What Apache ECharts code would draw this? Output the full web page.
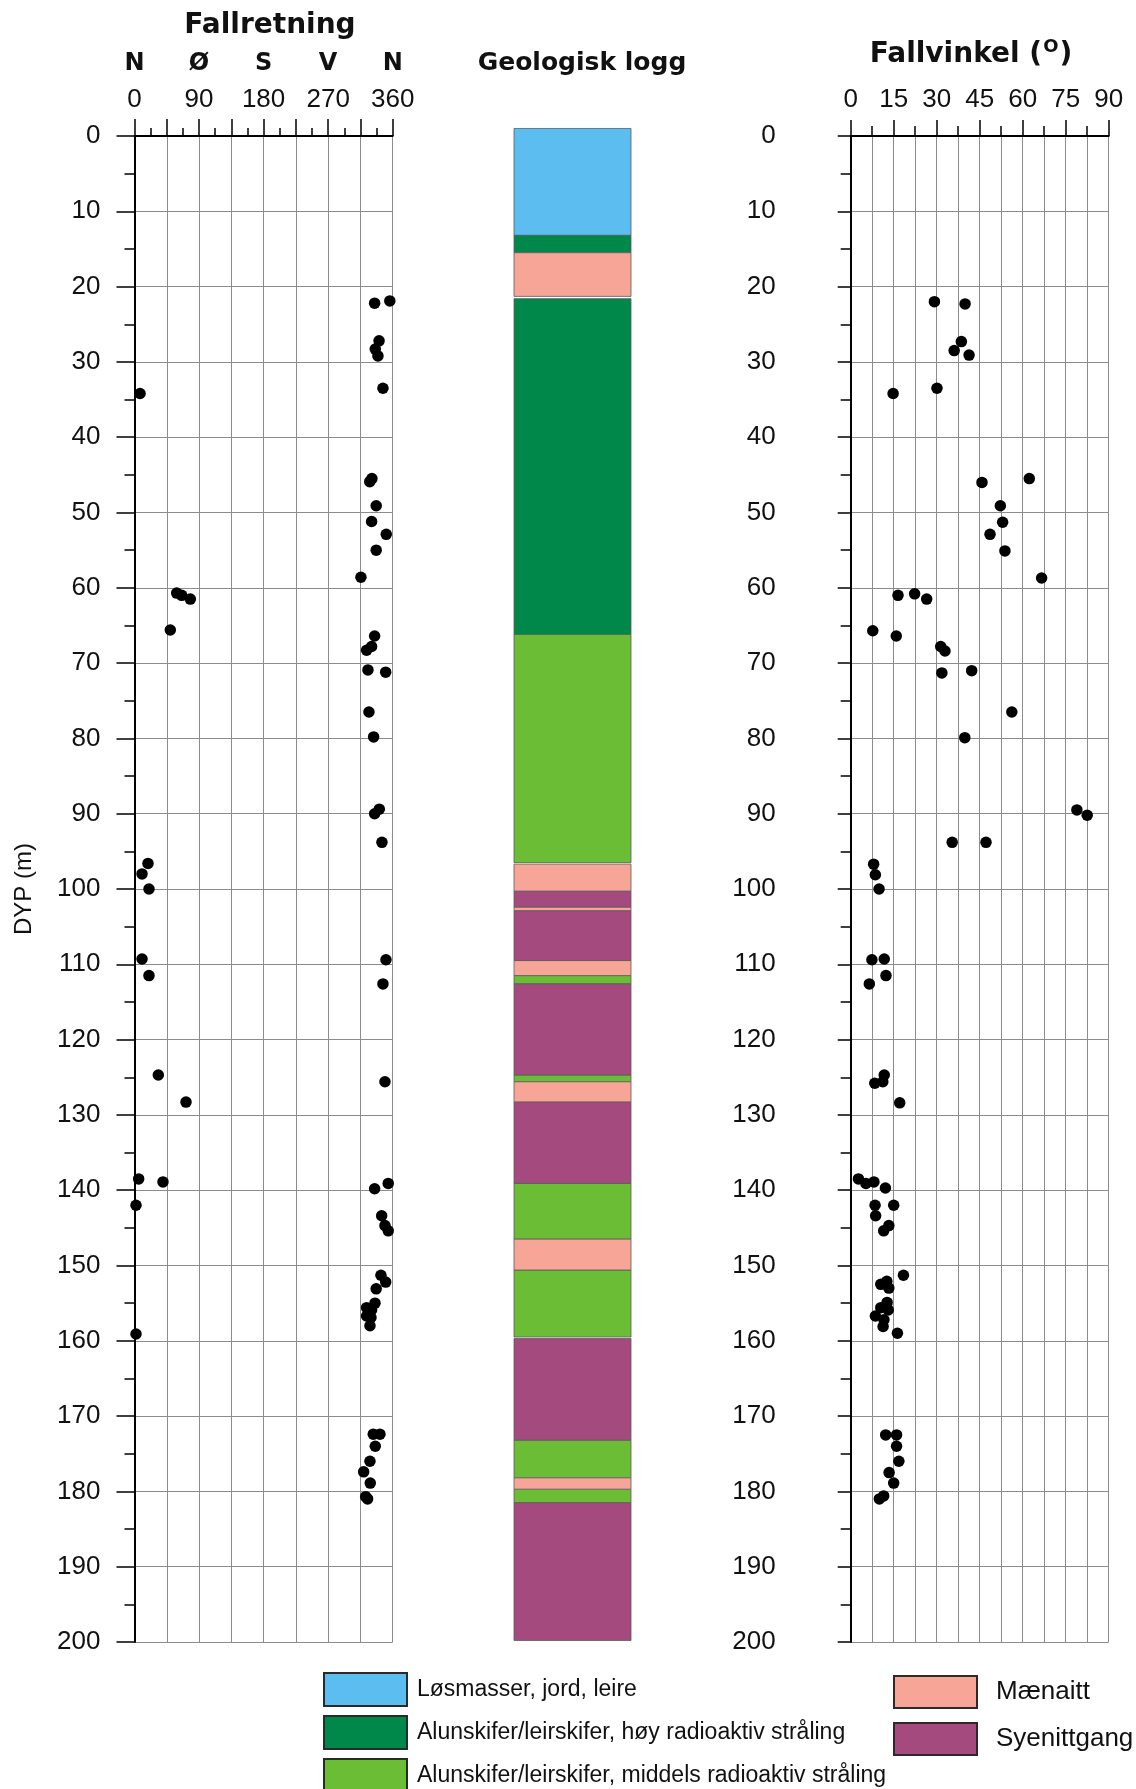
<!DOCTYPE html>
<html>
<head>
<meta charset="utf-8">
<script src="https://cdn.jsdelivr.net/npm/echarts@6/dist/echarts.min.js"></script>
<style>
  html, body { margin: 0; padding: 0; background: #fff; }
  #chart { width: 1136px; height: 1789px; }
</style>
</head>
<body>
<div id="chart"></div>
<script>
// ---- Dip direction (Fallretning): depth (m) and azimuth (deg)
const dirDepth = [22.2, 21.9, 27.2, 28.3, 29.2, 33.5, 34.2, 45.5, 45.9, 49.1, 51.2, 52.9, 55.0, 58.6, 60.7, 61.0, 61.5, 65.6, 66.4, 67.8, 68.3, 70.9, 71.2, 76.5, 79.8, 89.4, 90.0, 93.8, 96.6, 98.0, 100.0, 109.3, 109.4, 111.5, 112.6, 124.7, 125.6, 128.3, 138.5, 138.9, 139.1, 139.8, 142.0, 143.4, 144.7, 145.4, 151.3, 152.2, 153.1, 155.0, 155.6, 155.9, 156.7, 156.9, 158.0, 159.1, 172.4, 172.4, 174.0, 176.0, 177.4, 178.9, 180.7, 181.0];
const dirValue = [334.8, 356, 341, 335.7, 339.4, 346.4, 7.7, 331, 328, 337, 330.6, 351, 337, 315.7, 58.8, 65.8, 77.8, 49.9, 334.8, 330.6, 323.6, 325.5, 350.2, 326.9, 333.4, 341.3, 334.8, 345, 18.8, 10.5, 20.2, 10.5, 350.6, 20.2, 346.4, 33.2, 349.2, 71.8, 5.8, 39.7, 353.8, 334.8, 2.1, 344.6, 349.2, 353.8, 343.6, 350.2, 337, 335.3, 323.6, 330.6, 323.6, 329.7, 328.3, 2.1, 332.9, 342.2, 335.7, 328.3, 319.5, 328.7, 322.3, 325];

// ---- Dip angle (Fallvinkel): depth (m) and angle (deg)
const dipDepth = [22.0, 22.3, 27.3, 28.5, 29.1, 33.5, 34.2, 45.5, 46.0, 49.1, 51.3, 52.9, 55.1, 58.7, 60.8, 61.0, 61.5, 65.7, 66.4, 67.8, 68.4, 71.0, 71.3, 76.5, 79.9, 89.5, 90.2, 93.8, 93.8, 96.7, 98.1, 100.0, 109.3, 109.4, 111.5, 112.6, 124.7, 125.6, 125.8, 128.4, 138.5, 138.9, 139.1, 139.7, 142.0, 142.0, 143.4, 144.7, 145.4, 151.3, 152.1, 152.5, 153.0, 154.9, 155.6, 155.9, 156.7, 157.2, 158.1, 159.0, 172.5, 172.5, 174.0, 176.0, 177.5, 178.9, 180.6, 181.0];
const dipValue = [29.2, 39.9, 38.6, 36.1, 41.3, 30.1, 14.8, 62.3, 45.8, 52.2, 53.0, 48.6, 53.8, 66.6, 22.3, 16.5, 26.5, 7.7, 15.9, 31.4, 32.9, 42.2, 31.8, 56.2, 39.8, 78.9, 82.5, 35.4, 47.2, 8.0, 8.6, 9.9, 11.7, 7.4, 12.3, 6.5, 11.7, 11.2, 8.4, 17.1, 2.7, 8.1, 5.3, 12.1, 8.5, 15.0, 8.7, 13.3, 11.5, 18.4, 12.6, 10.5, 13.3, 12.7, 10.5, 13.1, 8.6, 11.6, 11.3, 16.3, 12.2, 16.0, 16.0, 16.8, 13.4, 15.0, 11.5, 10.0];

// ---- Geological log: layer top / bottom depth (m) and rock type index
const layerTop    = [-1.0, 13.2, 15.5, 21.6, 66.2, 96.7, 100.3, 102.4, 102.9, 109.5, 111.5, 112.6, 124.7, 125.6, 128.3, 139.1, 146.5, 150.6, 159.7, 173.2, 178.2, 179.7, 181.5];
const layerBottom = [13.2, 15.5, 21.3, 66.2, 96.5, 100.3, 102.4, 102.9, 109.5, 111.5, 112.6, 124.7, 125.6, 128.3, 139.1, 146.5, 150.6, 159.5, 173.2, 178.2, 179.7, 181.5, 199.8];
const layerType   = [0, 1, 3, 1, 2, 3, 4, 3, 4, 3, 2, 4, 2, 3, 4, 2, 3, 2, 4, 2, 3, 2, 4];

const rockNames = [
  'Løsmasser, jord, leire',
  'Alunskifer/leirskifer, høy radioaktiv stråling',
  'Alunskifer/leirskifer, middels radioaktiv stråling',
  'Mænaitt',
  'Syenittgang'
];
const rockColors = ['#5cbdf1', '#00884a', '#6bbd36', '#f7a596', '#a54a7f'];

// ---- Tick labels
const directionLabels = { 0: 'N', 90: 'Ø', 180: 'S', 270: 'V', 360: 'N' };

const FONT = 'Liberation Sans, Arial, sans-serif';
const BOLD = 'DejaVu Sans, Liberation Sans, sans-serif';
const gridColor = '#8c8c8c';

const chart = echarts.init(document.getElementById('chart'), null, { renderer: 'canvas' });

function zip(a, b) { return a.map((v, i) => [b[i], v]); }

const logSeries = rockNames.map((name, k) => ({
  type: 'custom',
  name: name,
  xAxisIndex: 2,
  yAxisIndex: 1,
  itemStyle: { color: rockColors[k] },
  data: layerTop.map((t, i) => [t, layerBottom[i], layerType[i]]).filter(d => d[2] === k).map(d => [d[0], d[1]]),
  renderItem: function (params, api) {
    const p0 = api.coord([0, api.value(0)]);
    const p1 = api.coord([1, api.value(1)]);
    return {
      type: 'rect',
      shape: { x: p0[0], y: p0[1], width: p1[0] - p0[0], height: p1[1] - p0[1] },
      style: { fill: api.visual('color'), stroke: '#5c5c5c', lineWidth: 0.8 }
    };
  },
  clip: false,
  silent: true
}));

const depthAxisCommon = {
  type: 'value', inverse: true, min: 0, max: 200, interval: 10,
  axisLine: { show: true, lineStyle: { color: '#000', width: 2 } },
  minorTick: { show: true, splitNumber: 2, length: 10, lineStyle: { color: '#000', width: 1.5 } },
  splitLine: { show: true, lineStyle: { color: gridColor, width: 1 } },
  axisLabel: { fontFamily: FONT, fontSize: 26, color: '#111' }
};

const option = {
  animation: false,
  backgroundColor: '#fff',
  grid: [
    { left: 134.5, top: 136, width: 258.2, height: 1506 },
    { left: 514, top: 136, width: 117, height: 1506 },
    { left: 850.7, top: 136, width: 258, height: 1506 }
  ],
  xAxis: [
    {
      gridIndex: 0, type: 'value', position: 'top', min: 0, max: 360, interval: 45,
      axisLine: { show: true, lineStyle: { color: '#000', width: 2 } },
      axisTick: { show: true, length: 17, lineStyle: { color: '#000', width: 1.5 } },
      minorTick: { show: true, splitNumber: 2, length: 8, lineStyle: { color: '#000', width: 1.5 } },
      splitLine: { show: true, lineStyle: { color: gridColor, width: 1 } },
      axisLabel: {
        fontFamily: FONT, fontSize: 26, color: '#111', margin: 23,
        formatter: v => (v % 90 === 0 ? String(v) : '')
      }
    },
    {
      gridIndex: 0, type: 'value', position: 'top', offset: 47, min: 0, max: 360, interval: 90,
      axisLine: { show: false }, axisTick: { show: false }, splitLine: { show: false },
      axisLabel: {
        fontFamily: BOLD, fontWeight: 'bold', fontSize: 24, color: '#111', margin: 13,
        formatter: v => directionLabels[v] || ''
      }
    },
    { gridIndex: 1, type: 'value', min: 0, max: 1, show: false },
    {
      gridIndex: 2, type: 'value', position: 'top', min: 0, max: 90, interval: 15,
      axisLine: { show: true, lineStyle: { color: '#000', width: 2 } },
      axisTick: { show: true, length: 16, lineStyle: { color: '#000', width: 1.5 } },
      minorTick: { show: true, splitNumber: 2, length: 10, lineStyle: { color: '#000', width: 1.5 } },
      splitLine: { show: true, lineStyle: { color: gridColor, width: 1 } },
      minorSplitLine: { show: true, lineStyle: { color: gridColor, width: 1 } },
      axisLabel: { fontFamily: FONT, fontSize: 26, color: '#111', margin: 23 }
    }
  ],
  yAxis: [
    Object.assign({}, depthAxisCommon, {
      gridIndex: 0,
      axisTick: { show: true, length: 18, lineStyle: { color: '#000', width: 1.5 } },
      axisLabel: { fontFamily: FONT, fontSize: 26, color: '#111', margin: 34 },
      name: 'DYP (m)', nameLocation: 'middle', nameRotate: 90, nameGap: 98,
      nameTextStyle: { fontFamily: FONT, fontSize: 24, color: '#111' }
    }),
    { gridIndex: 1, type: 'value', inverse: true, min: 0, max: 200, show: false },
    Object.assign({}, depthAxisCommon, {
      gridIndex: 2, offset: 44,
      axisTick: { show: true, length: 13, lineStyle: { color: '#000', width: 1.5 } },
      axisLabel: { fontFamily: FONT, fontSize: 26, color: '#111', margin: 31 }
    })
  ],
  legend: [
    {
      left: 323, top: 1672, height: 130, padding: 0, orient: 'vertical', icon: 'rect',
      itemWidth: 83, itemHeight: 33, itemGap: 8, selectedMode: false,
      itemStyle: { borderColor: '#2a2a2a', borderWidth: 2 },
      textStyle: { fontFamily: FONT, fontSize: 23, color: '#111', padding: [0, 0, 0, 5] },
      data: rockNames.slice(0, 3)
    },
    {
      left: 893, top: 1675, height: 110, padding: 0, orient: 'vertical', icon: 'rect',
      itemWidth: 83, itemHeight: 32, itemGap: 13, selectedMode: false,
      itemStyle: { borderColor: '#2a2a2a', borderWidth: 2 },
      textStyle: { fontFamily: FONT, fontSize: 26, color: '#111', padding: [0, 0, 0, 14] },
      data: rockNames.slice(3)
    }
  ],
  graphic: [
    {
      type: 'text', x: 270, y: 26,
      style: { text: 'Fallretning', font: 'bold 28px ' + BOLD, fill: '#111', align: 'center', verticalAlign: 'middle' }
    },
    {
      type: 'text', x: 582, y: 63,
      style: { text: 'Geologisk logg', font: 'bold 25px ' + BOLD, fill: '#111', align: 'center', verticalAlign: 'middle' }
    },
    {
      type: 'text', x: 971, y: 55,
      style: {
        text: '{a|Fallvinkel (}{s|O}{a|)}', align: 'center', verticalAlign: 'middle',
        rich: {
          a: { font: 'bold 28px ' + BOLD, fill: '#111' },
          s: { font: 'bold 18px ' + BOLD, fill: '#111', padding: [0, 1, 16, 1] }
        }
      }
    }
  ],
  series: [
    {
      type: 'scatter', name: 'Fallretning', xAxisIndex: 0, yAxisIndex: 0,
      symbol: 'circle', symbolSize: 11.5, itemStyle: { color: '#000', opacity: 1 },
      data: zip(dirDepth, dirValue), silent: true
    },
    {
      type: 'scatter', name: 'Fallvinkel', xAxisIndex: 3, yAxisIndex: 2,
      symbol: 'circle', symbolSize: 11.5, itemStyle: { color: '#000', opacity: 1 },
      data: zip(dipDepth, dipValue), silent: true
    }
  ].concat(logSeries)
};

chart.setOption(option);
</script>
</body>
</html>
